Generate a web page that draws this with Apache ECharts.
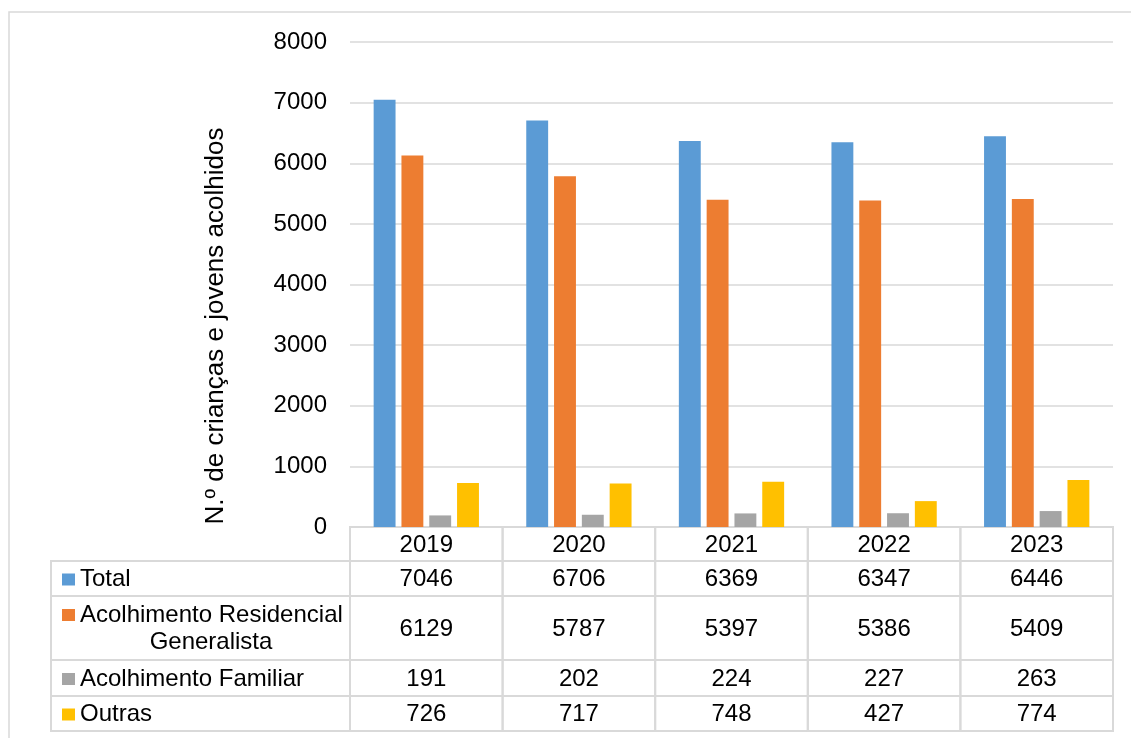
<!DOCTYPE html>
<html><head><meta charset="utf-8">
<script src="https://cdn.jsdelivr.net/npm/echarts@6/dist/echarts.min.js"></script>
<style>html,body{margin:0;padding:0;background:#fff}#c{width:1131px;height:738px}</style>
</head><body><div id="c"></div>
<script>
const categories = ['2019', '2020', '2021', '2022', '2023'];
const seriesNames = ['Total', 'Acolhimento Residencial Generalista', 'Acolhimento Familiar', 'Outras'];
const rowLabels = [['Total'], ['Acolhimento Residencial', 'Generalista'], ['Acolhimento Familiar'], ['Outras']];
const total = [7046, 6706, 6369, 6347, 6446];
const residencial = [6129, 5787, 5397, 5386, 5409];
const familiar = [191, 202, 224, 227, 263];
const outras = [726, 717, 748, 427, 774];
const yAxisTitle = 'N.º de crianças e jovens acolhidos';
const colors = ['#5B9BD5', '#ED7D31', '#A5A5A5', '#FFC000'];
const allSeries = [total, residencial, familiar, outras];

const FONT = 'Liberation Sans, Arial, sans-serif';
const FS = 24;
const chart = echarts.init(document.getElementById('c'), null, {renderer: 'canvas'});
const gridL = 350, gridR = 18, gridT = 42, gridB = 211;

chart.setOption({
  animation: false,
  color: colors,
  grid: {left: gridL, right: gridR, top: gridT, bottom: gridB},
  xAxis: {
    type: 'category', data: categories,
    axisLine: {show: false}, axisTick: {show: false}, axisLabel: {show: false}
  },
  yAxis: {
    type: 'value', min: 0, max: 8000, interval: 1000,
    axisLine: {show: false}, axisTick: {show: false},
    axisLabel: {fontSize: FS, color: '#000', fontFamily: FONT, margin: 23, formatter: v => String(v)},
    splitLine: {lineStyle: {color: '#d9d9d9', width: 1.5}}
  },
  series: allSeries.map((d, i) => ({
    name: seriesNames[i], type: 'bar', data: d,
    barGap: '27%', barCategoryGap: '31%',
    itemStyle: {color: colors[i]}
  }))
});

const W = 1131;
const plotLeft = gridL, plotRight = W - gridR;
const colW = (plotRight - plotLeft) / categories.length;
const rowTops = [527, 561, 596, 660, 696, 731];
const labelLeft = 51;
const border = '#d9d9d9';
const g = [];
g.push({type: 'rect', shape: {x: 9, y: 12, width: 1140, height: 740}, style: {fill: 'none', stroke: border, lineWidth: 1.5}, silent: true});
g.push({type: 'text', x: 216, y: 326, rotation: Math.PI / 2,
  style: {text: yAxisTitle, fontSize: 26, fontFamily: FONT, fill: '#000', align: 'center', verticalAlign: 'middle'}});
categories.forEach((c, i) => {
  const cx = chart.convertToPixel({xAxisIndex: 0}, c);
  const x0 = cx - colW / 2;
  for (let r = 0; r < 5; r++) {
    const y0 = rowTops[r], h = rowTops[r + 1] - rowTops[r];
    g.push({type: 'rect', shape: {x: x0, y: y0, width: colW, height: h}, style: {fill: 'none', stroke: border, lineWidth: 2}, silent: true});
    const txt = r === 0 ? c : String(allSeries[r - 1][i]);
    g.push({type: 'text', x: cx, y: y0 + h / 2 + 1, style: {text: txt, fontSize: FS, fontFamily: FONT, fill: '#000', align: 'center', verticalAlign: 'middle'}});
  }
});
for (let r = 1; r < 5; r++) {
  const y0 = rowTops[r], h = rowTops[r + 1] - rowTops[r];
  g.push({type: 'rect', shape: {x: labelLeft, y: y0, width: plotLeft - labelLeft, height: h}, style: {fill: 'none', stroke: border, lineWidth: 2}, silent: true});
  const lines = rowLabels[r - 1];
  if (lines.length === 1) {
    const cy = y0 + h / 2 + 1;
    g.push({type: 'rect', shape: {x: 62, y: cy - 6, width: 13, height: 12}, style: {fill: colors[r - 1]}});
    g.push({type: 'text', x: 80, y: cy, style: {text: lines[0], fontSize: FS, fontFamily: FONT, fill: '#000', align: 'left', verticalAlign: 'middle'}});
  } else {
    const cy1 = y0 + h / 2 - 13, cy2 = y0 + h / 2 + 14;
    g.push({type: 'rect', shape: {x: 62, y: cy1 - 6, width: 13, height: 12}, style: {fill: colors[r - 1]}});
    g.push({type: 'text', x: 80, y: cy1, style: {text: lines[0], fontSize: FS, fontFamily: FONT, fill: '#000', align: 'left', verticalAlign: 'middle'}});
    g.push({type: 'text', x: 211, y: cy2, style: {text: lines[1], fontSize: FS, fontFamily: FONT, fill: '#000', align: 'center', verticalAlign: 'middle'}});
  }
}
chart.setOption({graphic: g});
</script></body></html>
